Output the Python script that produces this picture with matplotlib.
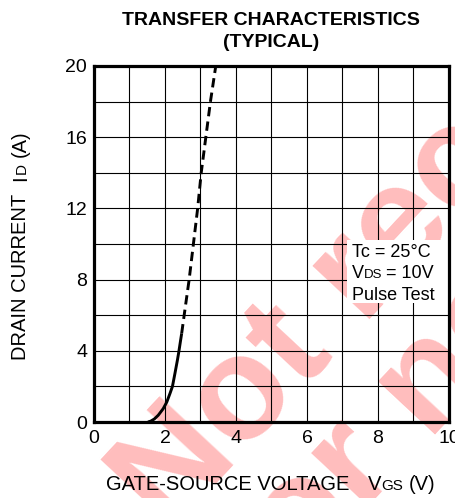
import matplotlib
matplotlib.use("Agg")
import math
import matplotlib.pyplot as plt
from matplotlib.transforms import IdentityTransform
from matplotlib.patches import Rectangle

plt.rcParams['font.family'] = ['Liberation Sans', 'DejaVu Sans']

# ---- data ----
vgs_solid = [1.52, 1.60, 1.70, 1.81, 1.95, 2.05, 2.14, 2.21, 2.28, 2.35, 2.39, 2.44, 2.47]
id_solid = [0.0, 0.05, 0.17, 0.38, 0.75, 1.12, 1.6, 2.0, 2.73, 3.48, 3.95, 4.6, 4.98]
vgs_dash = [2.47, 2.54, 2.68, 2.80, 2.92, 3.02, 3.15, 3.28, 3.43]
id_dash = [4.98, 6.0, 8.0, 10.0, 12.0, 14.0, 16.0, 18.0, 20.0]
x_ticks = [0, 2, 4, 6, 8, 10]
y_ticks = [0, 4, 8, 12, 16, 20]
x_grid = [1, 2, 3, 4, 5, 6, 7, 8, 9]
y_grid = [2, 4, 6, 8, 10, 12, 14, 16, 18]

W, H = 456, 498
fig = plt.figure(figsize=(W / 100, H / 100), dpi=100)
L, R, T, B = 94, 449, 66, 422
ax = fig.add_axes([L / W, 1 - B / H, (R - L) / W, (B - T) / H])
ax.patch.set_visible(False)
ax.set_xlim(0, 10)
ax.set_ylim(0, 20)

# watermark (behind everything)
wm_color = (1.0, 0.74, 0.74)
fig.text(168, -37, "Not recommended", transform=IdentityTransform(), rotation=47,
         rotation_mode='anchor', ha='left', va='baseline', fontsize=106,
         fontweight='bold', color=wm_color, zorder=-5)
fig.text(267, -117, "for new design", transform=IdentityTransform(), rotation=47,
         rotation_mode='anchor', ha='left', va='baseline', fontsize=106,
         fontweight='bold', color=wm_color, zorder=-5)

for gx in x_grid:
    ax.axvline(gx, color='black', lw=0.8, zorder=1)
for gy in y_grid:
    ax.axhline(gy, color='black', lw=0.8, zorder=1)

ax.set_xticks(x_ticks)
ax.set_yticks(y_ticks)
ax.tick_params(length=0, labelsize=14, colors='black')
ax.tick_params(axis='x', pad=6)
ax.tick_params(axis='y', pad=5)
for s in ax.spines.values():
    s.set_linewidth(2.3)
    s.set_zorder(5)

ax.plot(vgs_solid, id_solid, color='black', lw=2.1, solid_capstyle='butt',
        solid_joinstyle='round', zorder=4)
ax.plot(vgs_dash, id_dash, color='black', lw=2.1, dashes=(3.2, 1.8), zorder=4)

# white box behind annotation
ax.add_patch(Rectangle((7.13, 6.7), 2.87, 3.5, facecolor='white', edgecolor='none', zorder=2))

fig.canvas.draw()
renderer = fig.canvas.get_renderer()


def seg_text(x, y, segs, rotation=0, **kw):
    """Place segments sequentially (pixel coords, y from top)."""
    px, py = x, H - y
    for s, size, gap in segs:
        t = fig.text(px, py, s, transform=IdentityTransform(), fontsize=size,
                     rotation=rotation, rotation_mode='anchor', ha='left',
                     va='baseline', zorder=6, **kw)
        bb = t.get_window_extent(renderer)
        adv = (bb.width if rotation == 0 else bb.height) + gap
        px += adv * math.cos(math.radians(rotation))
        py += adv * math.sin(math.radians(rotation))


# annotation
seg_text(352, 257, [("Tc = 25°C", 13, 0)])
seg_text(352, 278, [("V", 13, 0), ("DS", 9.5, 4), ("= 10V", 13, 0)])
seg_text(352, 300, [("Pulse Test", 13, 0)])

# axis labels
seg_text(106, 490, [("GATE-SOURCE VOLTAGE", 14.5, 19), ("V", 14.5, 0),
                    ("GS", 11, 5), ("(V)", 14.5, 0)])
seg_text(26, 360, [("DRAIN CURRENT", 14.5, 13), ("I", 14.5, 1),
                   ("D", 11, 6), ("(A)", 14.5, 0)], rotation=90)

# title
fig.text(271, H - 25, "TRANSFER CHARACTERISTICS", transform=IdentityTransform(),
         ha='center', va='baseline', fontsize=14, fontweight='bold')
fig.text(271, H - 47, "(TYPICAL)", transform=IdentityTransform(),
         ha='center', va='baseline', fontsize=14, fontweight='bold')

fig.savefig("out.png", dpi=100)
